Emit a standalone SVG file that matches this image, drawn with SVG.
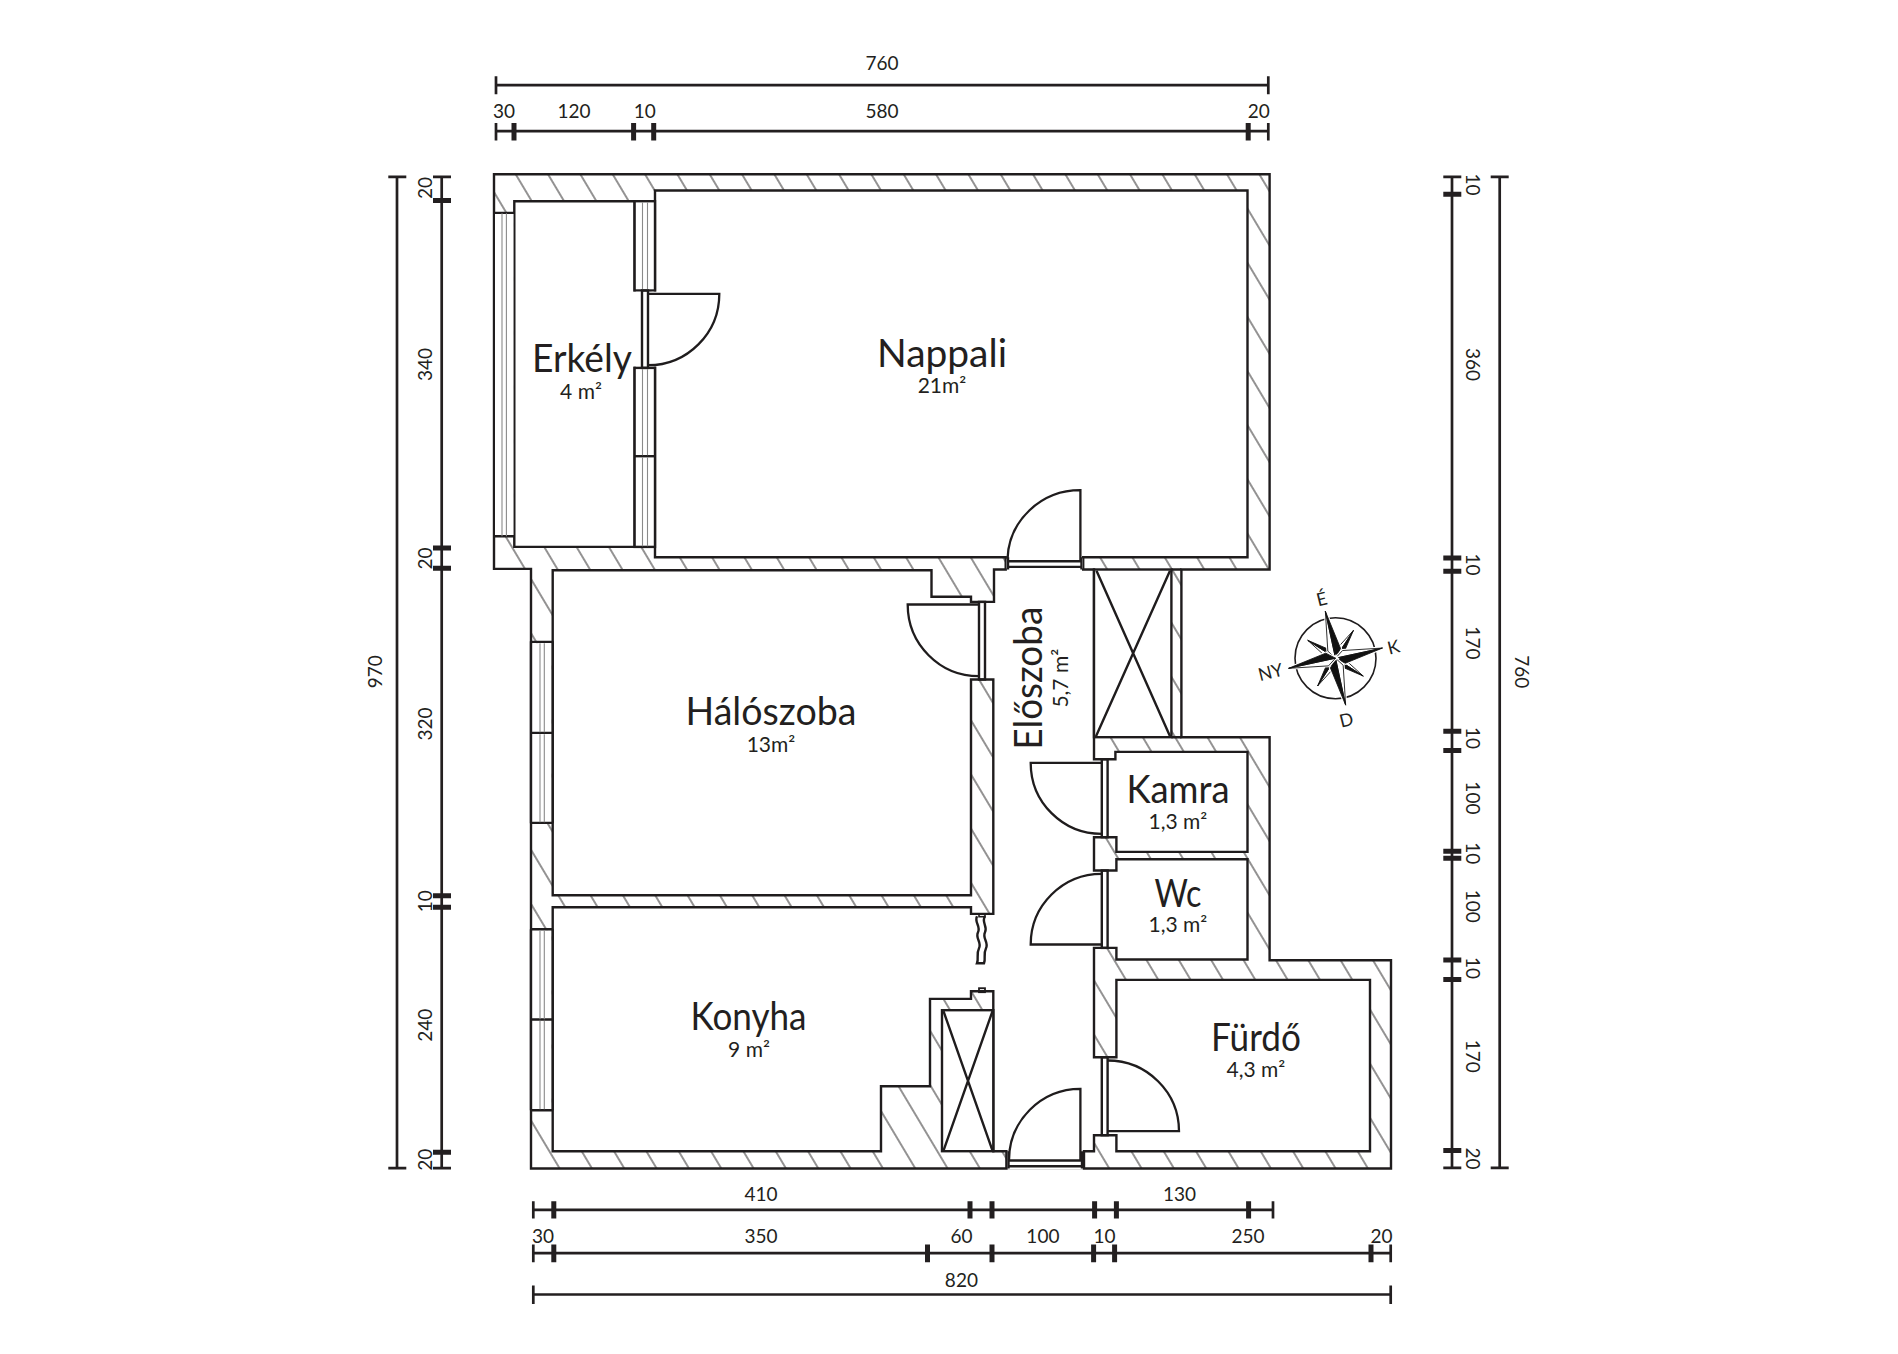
<svg xmlns="http://www.w3.org/2000/svg" xmlns:xlink="http://www.w3.org/1999/xlink" width="1898" height="1354" viewBox="0 0 1898 1354">
<style>
text{font-family:"Lato","Noto Sans","Liberation Sans",sans-serif;fill:#231f20}
.name{font-size:38px;text-anchor:middle;}
.area{font-size:21px;text-anchor:middle}
.dim{font-size:19px;text-anchor:middle}
.cp{font-size:18px;text-anchor:middle}
.wall{fill:url(#hatch);fill-rule:evenodd;stroke:#1f1c1d;stroke-width:2.4;stroke-linejoin:miter}
.l{fill:none;stroke:#1f1c1d;stroke-width:2.4}
.w{fill:#fff;stroke:#1f1c1d;stroke-width:2.4}
.c{fill:#fff;stroke:none}
.g{fill:none;stroke:#8a8a8a;stroke-width:1.1}
.door{fill:none;stroke:#1f1c1d;stroke-width:2.3}
.dl{stroke:#231f20;stroke-width:2.7;fill:none}
.t1{stroke:#231f20;stroke-width:2.7;fill:none}
.t2{stroke:#231f20;stroke-width:5;fill:none}
</style>
<defs>
<pattern id="hatch" patternUnits="userSpaceOnUse" width="27.76" height="10" patternTransform="translate(570.78 1158.82) rotate(-30.84)">
<rect width="27.76" height="10" fill="#fff"/>
<line x1="13.88" y1="0" x2="13.88" y2="10" stroke="#2a2728" stroke-width="1"/>
</pattern>
<g id="mainblade">
<polygon points="0,-48 0,0 -6,-8.5" fill="#fff" stroke="#fff" stroke-width="3"/>
<polygon points="0,-48 0,0 7,-8.5" fill="#fff" stroke="#fff" stroke-width="3"/>
<polygon points="0,-48 0,0 -6,-8.5" fill="#fff" stroke="#111" stroke-width="0.8"/>
<polygon points="0,-48 0,0 7,-8.5" fill="#111" stroke="#111" stroke-width="0.8"/>
</g>
<g id="minorblade">
<polygon points="0,-33 0,0 -4.5,-6" fill="#fff" stroke="#111" stroke-width="0.8"/>
<polygon points="0,-33 0,0 4.5,-6" fill="#111" stroke="#111" stroke-width="0.8"/>
</g>
</defs>
<g id="plan" transform="translate(0 1.2)">
<g id="walls">
<path class="wall" d="M494 173H1269.6V568.3H1181.4V736H1269.6V959H1391V1167.3H531V567.7H494Z
M514.3 200H634.6V545.7H514.3Z
M655 189.3H1247.5V556H1083.2V568.3H1094V758H1115.4V750.7H1247.5V850.7H1116.4V836H1094V869.3H1116.4V858H1247.5V958.3H1116.4V946.7H1094V1056H1116.4V978.7H1370V1150H1116.4V1134H1094V1150H1084V1167.3H1006.4V1150H993.3V990H971V997.7H930V1085H881V1150H552.7V906H971V912.7H993.3V678.3H971V894H552.7V569H931.5V595.5H971V600.7H994V568.3H1005.7V556H655Z"/>
<path class="l" d="M1171.4 568.3H1181.4M1171.4 736H1181.4"/>
</g>

<g id="windows">
<rect class="c" x="495" y="212" width="18.5" height="323"/>
<path class="l" d="M494 211.7H514.3M494 535H514.3"/>
<path class="g" d="M502 212V535M506.4 212V535"/>
<rect class="w" x="634.6" y="200" width="20.4" height="89.3"/>
<path class="g" d="M642.5 201V288M647.5 201V288"/>
<rect class="c" x="633" y="290.5" width="24" height="75"/>
<rect class="w" x="634.6" y="366.7" width="20.4" height="179"/>
<path class="l" d="M634.6 455H655"/>
<path class="g" d="M642.5 368V454M647.5 368V454M642.5 456V545M647.5 456V545"/>
<rect class="c" x="532" y="642" width="19.5" height="179"/>
<path class="l" d="M531 640.7H552.7M531 731.7H552.7M531 821.7H552.7M531 640V822M552.7 640V822"/>
<path class="g" d="M540 642V731M544.3 642V731M540 733V821M544.3 733V821"/>
<rect class="c" x="532" y="929" width="19.5" height="180"/>
<path class="l" d="M531 928H552.7M531 1018.3H552.7M531 1109H552.7M531 928V1109M552.7 928V1109"/>
<path class="g" d="M540 929V1018M544.3 929V1018M540 1019.5V1108M544.3 1019.5V1108"/>
</g>

<g id="shafts">
<rect class="w" x="1094" y="568.3" width="77.4" height="167.7"/>
<path class="l" d="M1096.5 569.5L1170 735M1170 569.5L1096 735"/>
<rect class="w" x="942" y="1009" width="51.3" height="141"/>
<path class="l" d="M943.5 1010L992.5 1149.5M992.5 1010L943.5 1149.5"/>
</g>

<g id="doors">
<rect class="l" x="642" y="289.3" width="6" height="77.4"/>
<path class="door" d="M648 292.7H719.3A71.3 71.3 0 0 1 648 364"/>
<rect class="c" x="1006.6" y="557.2" width="76.4" height="10"/>
<path class="l" d="M1008 556V568.3M1081.5 556V568.3M1008 560H1081.5M1008 565.7H1081.5"/>
<path class="door" d="M1080.4 559.3V489A72.9 71 0 0 0 1007.5 558"/>
<rect class="l" x="979" y="600.7" width="6" height="77.6"/>
<path class="door" d="M979 603.3H907.7A71.3 71.7 0 0 0 979 675"/>
<rect class="l" x="1101.8" y="758" width="5.8" height="78"/>
<path class="door" d="M1101.8 761.7H1030.7A71 71 0 0 0 1101.8 832.7"/>
<rect class="l" x="1101.8" y="869.3" width="5.8" height="77.4"/>
<path class="door" d="M1101.8 943.3H1030.7A71 70.6 0 0 1 1101.8 872.7"/>
<rect class="l" x="1101.8" y="1056" width="5.8" height="78"/>
<path class="door" d="M1107.5 1130H1179A71.5 70.7 0 0 0 1107.5 1059.3"/>
<rect class="c" x="1007.6" y="1151" width="75.2" height="17.6"/>
<path class="l" d="M1008.5 1150V1167.3M1082 1150V1167.3M1008.5 1159.3H1082M1008.5 1165H1082"/>
<path class="door" d="M1080.4 1159V1087.7A71.4 71.3 0 0 0 1009 1159"/>
<path class="l" d="M977 915C974 921 981 925 978 931C975 937 982 941 979 947C976 953 979 957 977 962H984C986 957 983 953 986 947C989 941 982 937 985 931C988 925 981 921 985 915"/>
<rect class="l" x="979" y="987" width="6" height="4" style="stroke-width:1.8"/>
<rect class="l" x="979" y="912.7" width="6" height="2.8" style="stroke-width:1.6"/>
</g>

<g id="room-nappali"><text class="name" x="942" y="365.5" textLength="130" lengthAdjust="spacingAndGlyphs">Nappali</text><text class="area" x="942" y="392.3">21m²</text></g>
<g id="room-erkely"><text class="name" x="582" y="370.8" textLength="100" lengthAdjust="spacingAndGlyphs">Erkély</text><text class="area" x="581" y="398.3">4 m²</text></g>
<g id="room-haloszoba"><text class="name" x="771" y="724.2" textLength="171" lengthAdjust="spacingAndGlyphs">Hálószoba</text><text class="area" x="771" y="751.3">13m²</text></g>
<g id="room-konyha"><text class="name" x="748.5" y="1029.2" textLength="116" lengthAdjust="spacingAndGlyphs">Konyha</text><text class="area" x="749" y="1055.5">9 m²</text></g>
<g id="room-kamra"><text class="name" x="1178" y="802.2" textLength="103" lengthAdjust="spacingAndGlyphs">Kamra</text><text class="area" x="1178" y="828">1,3 m²</text></g>
<g id="room-wc"><text class="name" x="1178" y="905.8" textLength="47" lengthAdjust="spacingAndGlyphs">Wc</text><text class="area" x="1178" y="931.3">1,3 m²</text></g>
<g id="room-furdo"><text class="name" x="1256" y="1050" textLength="90" lengthAdjust="spacingAndGlyphs">Fürdő</text><text class="area" x="1256" y="1076">4,3 m²</text></g>
<g id="room-eloszoba"><text class="name" transform="translate(1042 677) rotate(-90)" textLength="143" lengthAdjust="spacingAndGlyphs">Előszoba</text><text class="area" transform="translate(1068 677) rotate(-90)">5,7 m²</text></g>

<g id="compass">
<circle cx="1335.5" cy="657" r="40.5" fill="none" stroke="#1f1c1d" stroke-width="1.6"/>
<g transform="translate(1335.5 657) rotate(-12.2)">
<use xlink:href="#minorblade" href="#minorblade" transform="rotate(45)"/>
<use xlink:href="#minorblade" href="#minorblade" transform="rotate(135)"/>
<use xlink:href="#minorblade" href="#minorblade" transform="rotate(225)"/>
<use xlink:href="#minorblade" href="#minorblade" transform="rotate(315)"/>
<use xlink:href="#mainblade" href="#mainblade"/>
<use xlink:href="#mainblade" href="#mainblade" transform="rotate(90)"/>
<use xlink:href="#mainblade" href="#mainblade" transform="rotate(180)"/>
<use xlink:href="#mainblade" href="#mainblade" transform="rotate(270)"/>
</g>
<text class="cp" transform="translate(1323.3 604) rotate(-14)">É</text>
<text class="cp" transform="translate(1395 652) rotate(-14)">K</text>
<text class="cp" transform="translate(1348 725) rotate(-14)">D</text>
<text class="cp" transform="translate(1272 677) rotate(-14)">NY</text>
</g>

<g id="dimensions">
<path class="dl" d="M496 84H1268.3M496 130H1268.3M533.3 1208.7H1273M533.3 1252H1390.7M533.3 1293.3H1390.7M397 175.7V1167M441.7 175.7V1167M1452 175.7V1166.7M1499.7 175.7V1166.7"/>
<path class="t1" d="M496 75V93M1268.3 75V93M496 121.7V139.3M1268.3 121.7V139.3M533.3 1200V1217.3M1273 1200V1217.3M533.3 1243.3V1261M1390.7 1243.3V1261M533.3 1284.3V1302.7M1390.7 1284.3V1302.7M388.3 175.7H406.3M388.3 1167H406.3M433 175.7H451M433 1167H451M1443.3 175.7H1461.3M1443.3 1166.7H1461.3M1490.7 175.7H1508.7M1490.7 1166.7H1508.7"/>
<path class="t2" d="M514 121.7V139.3M633.6 121.7V139.3M653.7 121.7V139.3M1248.2 121.7V139.3
M553.8 1200V1217.3M970 1200V1217.3M992 1200V1217.3M1094.6 1200V1217.3M1116.4 1200V1217.3M1248.6 1200V1217.3
M553.8 1243.3V1261M927.5 1243.3V1261M992 1243.3V1261M1093.6 1243.3V1261M1114.6 1243.3V1261M1371 1243.3V1261
M433 199.3H451M433 546.7H451M433 567H451M433 894.5H451M433 906H451M433 1151H451
M1443.3 193H1461.3M1443.3 556.7H1461.3M1443.3 570H1461.3M1443.3 730H1461.3M1443.3 749.3H1461.3M1443.3 850H1461.3M1443.3 857H1461.3M1443.3 958.7H1461.3M1443.3 978.3H1461.3M1443.3 1149.3H1461.3"/>
<text class="dim" x="882" y="69">760</text>
<text class="dim" x="504" y="117.3">30</text>
<text class="dim" x="574" y="117.3">120</text>
<text class="dim" x="644.7" y="117.3">10</text>
<text class="dim" x="882" y="117.3">580</text>
<text class="dim" x="1258.8" y="117.3">20</text>
<text class="dim" x="761" y="1199.5">410</text>
<text class="dim" x="1179.6" y="1199.5">130</text>
<text class="dim" x="543" y="1242.2">30</text>
<text class="dim" x="761" y="1242.2">350</text>
<text class="dim" x="961.4" y="1242.2">60</text>
<text class="dim" x="1042.9" y="1242.2">100</text>
<text class="dim" x="1104.6" y="1242.2">10</text>
<text class="dim" x="1248" y="1242.2">250</text>
<text class="dim" x="1381.4" y="1242.2">20</text>
<text class="dim" x="961.4" y="1286">820</text>
<text class="dim" transform="translate(382 670.6) rotate(-90)">970</text>
<text class="dim" transform="translate(431.5 186.7) rotate(-90)">20</text>
<text class="dim" transform="translate(431.5 363.3) rotate(-90)">340</text>
<text class="dim" transform="translate(431.5 557.3) rotate(-90)">20</text>
<text class="dim" transform="translate(431.5 722.7) rotate(-90)">320</text>
<text class="dim" transform="translate(431.5 900) rotate(-90)">10</text>
<text class="dim" transform="translate(431.5 1024) rotate(-90)">240</text>
<text class="dim" transform="translate(431.5 1158.5) rotate(-90)">20</text>
<text class="dim" transform="translate(1514.6 670.6) rotate(90)">760</text>
<text class="dim" transform="translate(1465.5 183.3) rotate(90)">10</text>
<text class="dim" transform="translate(1465.5 363.3) rotate(90)">360</text>
<text class="dim" transform="translate(1465.5 563.3) rotate(90)">10</text>
<text class="dim" transform="translate(1465.5 641.7) rotate(90)">170</text>
<text class="dim" transform="translate(1465.5 736.7) rotate(90)">10</text>
<text class="dim" transform="translate(1465.5 796.7) rotate(90)">100</text>
<text class="dim" transform="translate(1465.5 852) rotate(90)">10</text>
<text class="dim" transform="translate(1465.5 905) rotate(90)">100</text>
<text class="dim" transform="translate(1465.5 966.7) rotate(90)">10</text>
<text class="dim" transform="translate(1465.5 1055) rotate(90)">170</text>
<text class="dim" transform="translate(1465.5 1157.3) rotate(90)">20</text>
</g>
</g>
</svg>
